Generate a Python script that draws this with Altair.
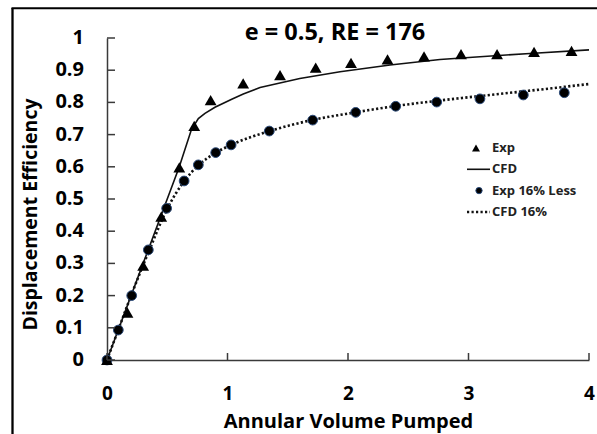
import altair as alt
import pandas as pd

# Experimental displacement efficiency (triangles)
exp_x = [0, 0.17, 0.3, 0.45, 0.6, 0.724, 0.86, 1.13, 1.436, 1.732, 2.025, 2.328, 2.631, 2.938, 3.237, 3.544, 3.855]
exp_y = [0, 0.147, 0.293, 0.445, 0.598, 0.727, 0.807, 0.859, 0.885, 0.908, 0.923, 0.934, 0.943, 0.95, 0.95, 0.957, 0.96]

# Experimental, 16% less (circles)
less_x = [0, 0.094, 0.205, 0.343, 0.495, 0.64, 0.758, 0.902, 1.03, 1.347, 1.707, 2.064, 2.396, 2.736, 3.095, 3.455, 3.795]
less_y = [0, 0.093, 0.2, 0.342, 0.471, 0.556, 0.606, 0.644, 0.668, 0.711, 0.745, 0.769, 0.788, 0.801, 0.811, 0.823, 0.83]

# CFD prediction (solid line)
cfd_x = [0, 0.3, 0.6, 0.7, 0.758, 0.813, 0.896, 1.035, 1.131, 1.27, 1.6, 1.934, 2.349, 2.763, 3.095, 3.51, 4.0]
cfd_y = [0, 0.3, 0.6, 0.715, 0.75, 0.766, 0.785, 0.81, 0.826, 0.846, 0.874, 0.895, 0.916, 0.933, 0.942, 0.952, 0.963]

# CFD prediction, 16% (dotted line)
cfd16_x = [0, 0.1, 0.2, 0.35, 0.5, 0.64, 0.76, 0.9, 1.03, 1.35, 1.7, 2.06, 2.4, 2.74, 3.1, 3.5, 4.0]
cfd16_y = [0, 0.1, 0.2, 0.34, 0.47, 0.555, 0.605, 0.643, 0.668, 0.711, 0.745, 0.769, 0.789, 0.805, 0.82, 0.836, 0.857]

x_ticks = [0, 1, 2, 3, 4]
y_ticks = [0, 0.1, 0.2, 0.3, 0.4, 0.5, 0.6, 0.7, 0.8, 0.9, 1]
y_tick_labels = ["0", "0.1", "0.2", "0.3", "0.4", "0.5", "0.6", "0.7", "0.8", "0.9", "1"]

legend_labels = ["Exp", "CFD", "Exp 16% Less", "CFD 16%"]

FONT = "Open Sans"
W, H = 482, 322

exp_df = pd.DataFrame({"x": exp_x, "y": exp_y})
less_df = pd.DataFrame({"x": less_x, "y": less_y})
cfd_df = pd.DataFrame({"x": cfd_x, "y": cfd_y})
cfd16_df = pd.DataFrame({"x": cfd16_x, "y": cfd16_y})
ytick_df = pd.DataFrame({"y": y_ticks, "label": y_tick_labels})

xs = alt.Scale(domain=[0, 4], nice=False, zero=False)
ys = alt.Scale(domain=[0, 1], nice=False, zero=False)

x_axis = alt.Axis(values=x_ticks, format="d", grid=False, domain=True, domainColor="#3a3a3a",
                  domainWidth=1.5, ticks=False, labelPadding=24, labelFontSize=19,
                  labelFont=FONT, labelFontWeight="bold", labelColor="#000", labelFlush=False,
                  labelOverlap=False,
                  title="Annular Volume Pumped", titleFont=FONT, titleFontSize=20,
                  titleFontWeight="bold", titleColor="#000", titleBaseline="alphabetic",
                  titleY=67)
# y axis: line and title only; tick labels are drawn as a text layer below
y_axis = alt.Axis(grid=False, domain=True, domainColor="#3a3a3a", domainWidth=1.5,
                  ticks=False, labels=False,
                  title="Displacement Efficiency", titleFont=FONT, titleFontSize=19.5,
                  titleFontWeight="bold", titleColor="#000", titleX=-77, titleY=176,
                  titleBaseline="middle", titleAlign="center")

cfd_line = alt.Chart(cfd_df).mark_line(color="#111", strokeWidth=1.6).encode(
    x=alt.X("x:Q", scale=xs, axis=x_axis), y=alt.Y("y:Q", scale=ys, axis=y_axis))
cfd16_line = alt.Chart(cfd16_df).mark_line(color="#111", strokeWidth=2.6, strokeDash=[2.2, 2.3],
                                           interpolate="monotone").encode(
    x=alt.X("x:Q", scale=xs), y=alt.Y("y:Q", scale=ys))
exp_pts = alt.Chart(exp_df).mark_point(shape="triangle-up", size=140, filled=True, color="#000",
                                       opacity=1).encode(
    x=alt.X("x:Q", scale=xs), y=alt.Y("y:Q", scale=ys))
less_pts = alt.Chart(less_df).mark_point(shape="circle", size=95, filled=True, fill="#000",
                                         stroke="#2a4a7a", strokeWidth=1, opacity=1).encode(
    x=alt.X("x:Q", scale=xs), y=alt.Y("y:Q", scale=ys))

# inward tick marks on both axes
xt = alt.Chart(pd.DataFrame({"x": x_ticks})).mark_rule(color="#3a3a3a", strokeWidth=1.5).encode(
    x=alt.X("x:Q", scale=xs), y=alt.value(H), y2=alt.value(H - 7))
yt = alt.Chart(ytick_df).mark_rule(color="#3a3a3a", strokeWidth=1.5).encode(
    y=alt.Y("y:Q", scale=ys), x=alt.value(0), x2=alt.value(8))
yl = alt.Chart(ytick_df).mark_text(font=FONT, fontSize=20, fontWeight="bold", color="#000",
                                   align="right", baseline="middle").encode(
    y=alt.Y("y:Q", scale=ys), x=alt.value(-23), text="label:N")

one = pd.DataFrame({"a": [0]})

title = alt.Chart(pd.DataFrame({"t": ["e = 0.5, RE = 176"]})).mark_text(
    font=FONT, fontSize=23.5, fontWeight="bold", color="#000", align="center", baseline="middle").encode(
    text="t:N", x=alt.value(228), y=alt.value(-5))

# frame around the figure
frame_l = alt.Chart(one).mark_rule(color="#000", strokeWidth=2.3).encode(
    x=alt.value(-94.5), y=alt.value(-30), y2=alt.value(400))
frame_t = alt.Chart(one).mark_rule(color="#000", strokeWidth=2).encode(
    y=alt.value(-29.7), x=alt.value(-95.5), x2=alt.value(500))

# legend
lx, ly0, dy = 385, 110, 21.3
leg_texts = [
    alt.Chart(pd.DataFrame({"label": [lab]})).mark_text(
        font=FONT, fontSize=13, fontWeight="bold", color="#222", align="left", baseline="middle"
    ).encode(text="label:N", x=alt.value(lx), y=alt.value(ly0 + i * dy))
    for i, lab in enumerate(legend_labels)
]
leg_tri = alt.Chart(one).mark_point(shape="triangle-up", size=64, filled=True,
                                    color="#000", opacity=1).encode(
    x=alt.value(lx - 16), y=alt.value(ly0))
leg_circ = alt.Chart(one).mark_point(shape="circle", size=40, filled=True,
                                     fill="#000", stroke="#2a4a7a", strokeWidth=1,
                                     opacity=1).encode(
    x=alt.value(lx - 13), y=alt.value(ly0 + 2 * dy))
leg_line = alt.Chart(one).mark_rule(color="#111", strokeWidth=1.6).encode(
    x=alt.value(lx - 25), x2=alt.value(lx - 2), y=alt.value(ly0 + dy))
leg_dot = alt.Chart(one).mark_rule(color="#111", strokeWidth=2.5, strokeDash=[2.2, 2.3]).encode(
    x=alt.value(lx - 25), x2=alt.value(lx - 2), y=alt.value(ly0 + 3 * dy))

chart = alt.layer(
    cfd_line, cfd16_line, less_pts, exp_pts, xt, yt, yl, title, frame_l, frame_t,
    *leg_texts, leg_tri, leg_circ, leg_line, leg_dot
).properties(
    width=W, height=H,
    autosize=alt.AutoSizeParams(type="none"),
    padding={"left": 107, "top": 38, "right": 8, "bottom": 74},
    background="white",
).configure_view(stroke=None)

chart.save("out.html", embed_options={"renderer": "svg", "actions": False})
